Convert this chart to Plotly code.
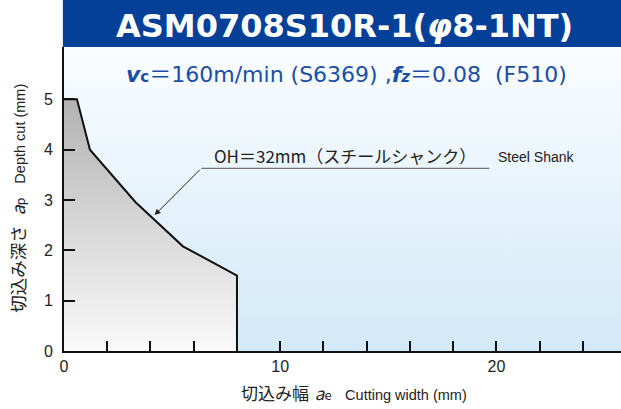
import plotly.graph_objects as go

# ---- data ----
cut_width = [0, 0.6, 1.2, 3.3, 5.5, 8.0, 8.0]   # ae (mm)
depth_cut = [5.0, 5.0, 4.0, 2.96, 2.08, 1.5, 0.0]  # ap (mm)
x_tick_vals = [0, 10, 20]
x_tick_text = ["0", "10", "20"]
y_tick_vals = [0, 1, 2, 3, 4, 5]
y_tick_text = ["0", "1", "2", "3", "4", "5"]

X_MAX = 25.76
Y_MAX = 6.04

LAT = "Liberation Sans, Arial, Noto Sans CJK JP, sans-serif"
JP = "Noto Sans CJK JP, Liberation Sans, sans-serif"

fig = go.Figure()

# background gradient (plot area)
fig.add_trace(go.Scatter(
    x=[0, 30, 30, 0, 0], y=[0, 0, 7, 7, 0], mode="lines", fill="toself",
    line=dict(width=0, color="rgba(0,0,0,0)"),
    fillgradient=dict(type="vertical", start=0, stop=Y_MAX,
                      colorscale=[[0, "#d2e9f8"], [1, "#fbfdff"]]),
    hoverinfo="skip", showlegend=False))

# gray filled region under the limit curve
fig.add_trace(go.Scatter(
    x=[0] + cut_width + [0], y=[0] + depth_cut + [0], mode="lines", fill="toself",
    line=dict(width=0, color="rgba(0,0,0,0)"),
    fillgradient=dict(type="vertical",
                      colorscale=[[0, "#fafafa"], [1, "#b3b3b3"]]),
    hoverinfo="skip", showlegend=False))

# outline of the limit curve
fig.add_trace(go.Scatter(
    x=cut_width, y=depth_cut, mode="lines",
    line=dict(color="#111111", width=2),
    hoverinfo="skip", showlegend=False))

# header band
fig.add_shape(type="rect", xref="paper", yref="paper",
              x0=-0.002, x1=1.0, y0=1.0, y1=1.16,
              fillcolor="#043f98", line=dict(width=0), layer="above")

SP = "<span style='font-size:9px'> </span>"

annotations = [
    dict(text="ASM0708S10R-1(<i>φ</i>8-1NT)", xref="paper", yref="paper",
         x=0.503, y=1.0707, xanchor="center", yanchor="middle", showarrow=False,
         font=dict(family="DejaVu Sans, sans-serif", size=32, color="white", weight="bold")),
    dict(text="<b><i>v</i></b><span style='font-size:15px'><b>c</b></span>＝160m/min (S6369) ,"
              "<b><i>f</i></b><span style='font-size:15px'><b><i>z</i></b></span>＝0.08  (F510)",
         xref="paper", yref="paper", x=0.508, y=0.911, xanchor="center", yanchor="middle",
         showarrow=False,
         font=dict(family="DejaVu Sans, Noto Sans CJK JP, sans-serif", size=22, color="#1a4fa5")),
    dict(text="OH＝32mm（スチールシャンク）", xref="x", yref="y", x=12.99, y=3.89,
         xanchor="center", yanchor="middle", showarrow=False,
         font=dict(family=JP, size=17, color="#222222")),
    dict(text="Steel Shank", xref="x", yref="y", x=21.85, y=3.85,
         xanchor="center", yanchor="middle", showarrow=False,
         font=dict(family=LAT, size=14, color="#222222")),
    # leader arrow
    dict(text="", xref="x", yref="y", x=4.19, y=2.70, axref="x", ayref="y",
         ax=6.35, ay=3.63, showarrow=True, arrowhead=2, arrowsize=1.2, arrowwidth=1,
         arrowcolor="#222222", standoff=0),
    # x-axis title
    dict(text="切込み幅" + SP + " <i>a</i><span style='font-size:13px'>e</span>" + SP + "   "
              "<span style='font-size:14.5px;font-family:Liberation Sans'>Cutting width (mm)</span>",
         xref="paper", yref="paper", x=0.52, y=-0.135, xanchor="center", yanchor="middle",
         showarrow=False, font=dict(family=JP, size=17, color="#222222")),
    # y-axis title
    dict(text="切込み深さ" + SP + "  <i>a</i><span style='font-size:13px'>p</span>" + SP + "   "
              "<span style='font-size:14.5px;font-family:Liberation Sans'>Depth cut (mm)</span>",
         xref="paper", yref="paper", x=-0.085, y=0.503, xanchor="center", yanchor="middle",
         textangle=-90, showarrow=False, font=dict(family=JP, size=17.5, color="#222222")),
]

# horizontal leader line
fig.add_shape(type="line", xref="x", yref="y", x0=6.35, x1=19.67, y0=3.63, y1=3.63,
              line=dict(color="#555555", width=1))

fig.update_layout(
    width=621, height=409,
    margin=dict(l=64, r=0, t=47, b=58),
    paper_bgcolor="white", plot_bgcolor="white",
    showlegend=False,
    annotations=annotations,
    xaxis=dict(range=[0, X_MAX], tickvals=x_tick_vals, ticktext=x_tick_text,
               ticks="inside", ticklen=10, tickwidth=1.5, tickcolor="#111111",
               minor=dict(dtick=2, tick0=0, ticks="inside", ticklen=10, tickwidth=1.5,
                          tickcolor="#111111", showgrid=False),
               showline=True, linecolor="#111111", linewidth=2,
               showgrid=False, zeroline=False,
               tickfont=dict(family=LAT, size=16, color="#222222")),
    yaxis=dict(range=[0, Y_MAX], tickvals=y_tick_vals, ticktext=y_tick_text,
               ticks="inside", ticklen=11, tickwidth=1.5, tickcolor="#111111",
               showline=True, linecolor="#111111", linewidth=2,
               showgrid=False, zeroline=False, ticklabelstandoff=6,
               tickfont=dict(family=LAT, size=16, color="#222222")),
)

fig.write_html("out.html",
               config={"displayModeBar": False},
               post_script="document.body.style.margin='0';"
                           "document.body.style.overflow='hidden';")
